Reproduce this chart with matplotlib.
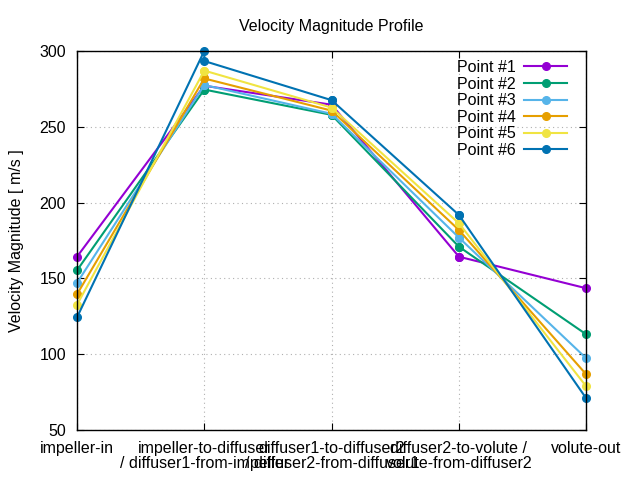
import matplotlib
matplotlib.use("Agg")
import matplotlib.pyplot as plt

plt.rcParams['font.family'] = ['Liberation Sans', 'DejaVu Sans']

categories = ["impeller-in",
              "impeller-to-diffuser\n/ diffuser1-from-impeller",
              "diffuser1-to-diffuser2\n/ diffuser2-from-diffuser1",
              "diffuser2-to-volute /\nvolute-from-diffuser2",
              "volute-out"]
# positions of the 8 measurement stations on the 5 category ticks
stations = [0, 1, 1, 2, 2, 3, 3, 4]

series_names = ["Point #1", "Point #2", "Point #3", "Point #4", "Point #5", "Point #6"]
p1 = [164.3, 277.0, 277.0, 264.5, 264.5, 164.3, 164.3, 143.5]
p2 = [155.3, 274.5, 274.5, 257.8, 257.8, 170.9, 170.9, 113.1]
p3 = [147.0, 277.5, 277.5, 258.5, 258.5, 176.9, 176.9, 97.3]
p4 = [139.5, 281.8, 281.8, 260.6, 260.6, 181.9, 181.9, 86.7]
p5 = [132.6, 287.0, 287.0, 262.6, 262.6, 186.3, 186.3, 78.8]
p6 = [124.3, 300.0, 293.3, 267.5, 267.5, 191.8, 191.8, 70.9]
series = [p1, p2, p3, p4, p5, p6]
colors = ["#9400d3", "#009e73", "#56b4e9", "#e69f00", "#f0e442", "#0072b2"]

FS = 11.5

fig = plt.figure(figsize=(6.4, 4.8), dpi=100)
ax = fig.add_axes([0.1203, 0.104, 0.7957, 0.790])

for name, vals, c in zip(series_names, series, colors):
    ax.plot(stations, vals, color=c, lw=1.5, marker='o', ms=5.5, label=name, clip_on=False)

ax.set_xlim(0, 4)
ax.set_ylim(50, 300)
ax.set_xticks(range(len(categories)))
ax.set_xticklabels(categories, fontsize=FS, linespacing=1.0)
ax.set_yticks([50, 100, 150, 200, 250, 300])
ax.tick_params(axis='both', direction='in', length=5, labelsize=FS,
               top=True, right=True)
ax.tick_params(axis='y', pad=8)
ax.tick_params(axis='x', pad=8)
ax.grid(True, color='#b0b0b0', linestyle=(0, (1, 3)), lw=0.8)
for s in ax.spines.values():
    s.set_linewidth(1.0)
ax.set_ylabel("Velocity Magnitude [ m/s ]", fontsize=FS)
ax.yaxis.set_label_coords(-0.105, 0.5)
ax.set_title("Velocity Magnitude Profile", fontsize=FS, pad=14)

leg = ax.legend(loc='upper right', bbox_to_anchor=(0.975, 0.993), frameon=False,
                markerfirst=False, fontsize=FS, handlelength=2.7,
                labelspacing=0.1, borderaxespad=0, handletextpad=0.5)

fig.savefig("out.png", dpi=100)
